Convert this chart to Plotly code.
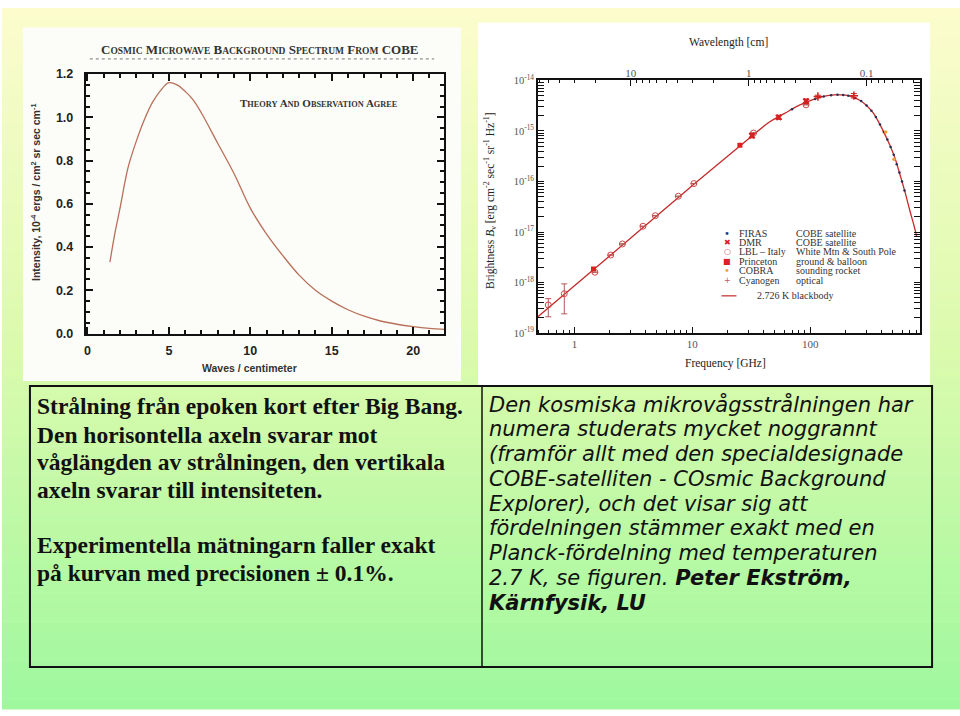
import plotly.graph_objects as go

W, H = 960, 716
def X(p): return p / W
def Y(p): return 1 - p / H

# ---------------- data: left chart (COBE spectrum, wavenumber) ----------------
wavenumber = [1.38, 1.7, 2.0, 2.3, 2.5, 3.0, 3.5, 4.0, 4.5, 5.0, 5.5, 6.0, 6.5, 7.0, 8.0, 9.0,
              10, 11, 12, 13, 14, 15, 16, 17, 18, 19, 20, 21, 22]
intensity = [0.33, 0.47, 0.58, 0.70, 0.77, 0.89, 0.99, 1.07, 1.125, 1.16, 1.15, 1.12, 1.08, 1.02,
             0.88, 0.74, 0.58, 0.46, 0.36, 0.27, 0.20, 0.15, 0.11, 0.08, 0.058, 0.043, 0.032, 0.024, 0.019]
left_xticks = [0, 5, 10, 15, 20]
left_yticks = [0.0, 0.2, 0.4, 0.6, 0.8, 1.0, 1.2]

# ---------------- data: right chart (brightness vs frequency) ----------------
nu_bb = [0.49, 1.0, 2.0, 5.0, 10, 20, 30, 45, 60, 80, 100, 120, 140, 160, 180, 200, 230, 260,
         300, 340, 380, 420, 470, 520, 580, 640, 700, 760, 800]
B_bb = [2.1e-19, 8.6e-19, 3.4e-18, 2.1e-17, 8.3e-17, 3.2e-16, 7.0e-16, 1.5e-15, 2.2e-15, 3.2e-15,
        4.0e-15, 4.6e-15, 5.0e-15, 5.2e-15, 5.2e-15, 5.1e-15, 4.7e-15, 4.1e-15, 3.2e-15, 2.3e-15,
        1.5e-15, 9.5e-16, 5.4e-16, 3.0e-16, 1.3e-16, 5.8e-17, 2.6e-17, 1.3e-17, 8.0e-18]

firas_nu = [70, 90, 110, 130, 150, 170, 190, 210, 240, 270, 300, 330, 360, 390, 420, 450, 480,
            510, 540, 570, 600, 630]
firas_B = [2.7e-15, 3.6e-15, 4.3e-15, 4.8e-15, 5.1e-15, 5.2e-15, 5.15e-15, 5.0e-15, 4.5e-15,
           3.9e-15, 3.2e-15, 2.5e-15, 1.9e-15, 1.35e-15, 9.5e-16, 6.8e-16, 4.8e-16, 3.4e-16,
           2.2e-16, 1.5e-16, 1.0e-16, 6.6e-17]

dmr_nu = [32, 54, 92]
dmr_B = [8.1e-16, 1.86e-15, 3.9e-15]
dmr_hi = [9.0e-16, 2.05e-15, 4.3e-15]
dmr_lo = [7.3e-16, 1.7e-15, 3.5e-15]

lbl_nu = [0.60, 0.82, 1.49, 2.03, 2.55, 3.81, 4.85, 7.6, 10.3, 33, 92]
lbl_B = [3.6e-19, 6.0e-19, 1.6e-18, 3.5e-18, 5.8e-18, 1.3e-17, 2.1e-17, 5.1e-17, 9.1e-17, 9.1e-16, 3.3e-15]
lbl_hi = [4.8e-19, 9.4e-19, 1.6e-18, 3.5e-18, 5.8e-18, 1.3e-17, 2.1e-17, 5.1e-17, 9.1e-17, 9.1e-16, 3.3e-15]
lbl_lo = [2.1e-19, 2.4e-19, 1.6e-18, 3.5e-18, 5.8e-18, 1.3e-17, 2.1e-17, 5.1e-17, 9.1e-17, 9.1e-16, 3.3e-15]

princeton_nu = [1.45, 25.3]
princeton_B = [1.85e-18, 5.2e-16]

cobra_nu = [436, 512]
cobra_B = [9.5e-16, 2.75e-16]

cyan_nu = [116, 234]
cyan_B = [4.8e-15, 5.0e-15]
cyan_hi = [5.1e-15, 5.5e-15]
cyan_lo = [4.5e-15, 4.5e-15]

right_yticks = [1e-19, 1e-18, 1e-17, 1e-16, 1e-15, 1e-14]
right_ytext = ["10<sup>-19</sup>", "10<sup>-18</sup>", "10<sup>-17</sup>", "10<sup>-16</sup>",
               "10<sup>-15</sup>", "10<sup>-14</sup>"]
right_xticks = [1, 10, 100]
right_xtext = ["1", "10", "100"]
wl_ticks = [10, 1, 0.1]
wl_text = ["10", "1", "0.1"]

legend_rows = [
    ("•", "#1f3f9a", "FIRAS", "COBE satellite"),
    ("✖", "#d42020", "DMR", "COBE satellite"),
    ("○", "#d04848", "LBL – Italy", "White Mtn & South Pole"),
    ("■", "#e02020", "Princeton", "ground & balloon"),
    ("•", "#f0a040", "COBRA", "sounding rocket"),
    ("+", "#c05a5a", "Cyanogen", "optical"),
]

left_text = ["Strålning från epoken kort efter Big Bang.",
             "Den horisontella axeln svarar mot",
             "våglängden av strålningen, den vertikala",
             "axeln svarar till intensiteten.",
             "",
             "Experimentella mätningarn faller exakt",
             "på kurvan med precisionen ± 0.1%."]
right_text = ["Den kosmiska mikrovågsstrålningen har",
              "numera studerats mycket noggrannt",
              "(framför allt med den specialdesignade",
              "COBE-satelliten - COsmic Background",
              "Explorer), och det visar sig att",
              "fördelningen stämmer exakt med en",
              "Planck-fördelning med temperaturen",
              "2.7 K, se figuren. <b>Peter Ekström,</b>",
              "<b>Kärnfysik, LU</b>"]

fig = go.Figure()

# ---------------- left chart traces ----------------
fig.add_trace(go.Scatter(x=wavenumber, y=intensity, mode="lines", xaxis="x3", yaxis="y3",
                         line=dict(color="#b8705a", width=1.3, shape="spline"), showlegend=False))

# ---------------- right chart traces ----------------
red = "#c42a2a"
fig.add_trace(go.Scatter(x=[30 / n for n in nu_bb], y=B_bb, xaxis="x2", yaxis="y", mode="lines",
                         line=dict(color="rgba(0,0,0,0)"), hoverinfo="skip", showlegend=False))
fig.add_trace(go.Scatter(x=nu_bb, y=B_bb, mode="lines", line=dict(color=red, width=1.3, shape="spline"),
                         showlegend=False))
fig.add_trace(go.Scatter(x=firas_nu, y=firas_B, mode="markers",
                         marker=dict(color="#22305a", size=2.5), showlegend=False))
fig.add_trace(go.Scatter(x=lbl_nu, y=lbl_B, mode="markers",
                         error_y=dict(type="data", symmetric=False,
                                      array=[h - v for h, v in zip(lbl_hi, lbl_B)],
                                      arrayminus=[v - l for v, l in zip(lbl_B, lbl_lo)],
                                      color="#b45858", thickness=1, width=3),
                         marker=dict(symbol="circle-open", color="#d04848", size=6, line=dict(width=1)),
                         showlegend=False))
fig.add_trace(go.Scatter(x=dmr_nu, y=dmr_B, mode="markers",
                         error_y=dict(type="data", symmetric=False,
                                      array=[h - v for h, v in zip(dmr_hi, dmr_B)],
                                      arrayminus=[v - l for v, l in zip(dmr_B, dmr_lo)],
                                      color="#d42020", thickness=1, width=3),
                         marker=dict(symbol="x", color="#d42020", size=6), showlegend=False))
fig.add_trace(go.Scatter(x=princeton_nu, y=princeton_B, mode="markers",
                         marker=dict(symbol="square", color="#e02020", size=5), showlegend=False))
fig.add_trace(go.Scatter(x=cobra_nu, y=cobra_B, mode="markers",
                         marker=dict(color="#f0a040", size=3.5), showlegend=False))
fig.add_trace(go.Scatter(x=cyan_nu, y=cyan_B, mode="markers",
                         error_y=dict(type="data", symmetric=False,
                                      array=[h - v for h, v in zip(cyan_hi, cyan_B)],
                                      arrayminus=[v - l for v, l in zip(cyan_B, cyan_lo)],
                                      color="#d42020", thickness=1, width=3),
                         marker=dict(symbol="cross-thin", color="#d42020", size=6, line=dict(width=1.5, color="#d42020")),
                         showlegend=False))

# ---------------- shapes ----------------
shapes = []
top_c = (252, 252, 205)
mid_c = (218, 250, 172)
bot_c = (158, 248, 158)
N = 72
for i in range(N):
    t = (i + 0.5) / N
    if t < 0.5:
        u = t / 0.5
        c = [round(top_c[k] + (mid_c[k] - top_c[k]) * u) for k in range(3)]
    else:
        u = (t - 0.5) / 0.5
        c = [round(mid_c[k] + (bot_c[k] - mid_c[k]) * u) for k in range(3)]
    shapes.append(dict(type="rect", xref="paper", yref="paper", x0=0, x1=1,
                       y0=Y((i + 1) * H / N + 0.5), y1=Y(i * H / N), fillcolor="rgb(%d,%d,%d)" % tuple(c),
                       line=dict(width=0), layer="below"))
# panels
shapes.append(dict(type="rect", xref="paper", yref="paper", x0=X(21), x1=X(460), y0=Y(381), y1=Y(20),
                   fillcolor="#fcfdf8", line=dict(width=0), layer="below"))
shapes.append(dict(type="rect", xref="paper", yref="paper", x0=X(477), x1=X(930), y0=Y(385), y1=Y(15),
                   fillcolor="#ffffff", line=dict(width=0), layer="below"))
# text box
shapes.append(dict(type="rect", xref="paper", yref="paper", x0=X(28), x1=X(932), y0=Y(673), y1=Y(386),
                   line=dict(color="#111", width=2), fillcolor="rgba(0,0,0,0)"))
shapes.append(dict(type="line", xref="paper", yref="paper", x0=X(481), x1=X(481), y0=Y(673), y1=Y(386),
                   line=dict(color="#111", width=1.5)))
# dotted rule under left title
shapes.append(dict(type="line", xref="paper", yref="paper", x0=X(88), x1=X(433), y0=Y(52), y1=Y(52),
                   line=dict(color="#777", width=1, dash="dot")))
# legend line
shapes.append(dict(type="line", xref="paper", yref="paper", x0=X(721), x1=X(736), y0=Y(294), y1=Y(294),
                   line=dict(color=red, width=1.2)))

# ---------------- annotations ----------------
ann = []
def A(x, y, text, size, color="#222", family="Liberation Serif", xa="left", ya="middle", angle=0):
    ann.append(dict(x=X(x), y=Y(y), xref="paper", yref="paper", text=text, showarrow=False,
                    xanchor=xa, yanchor=ya, textangle=angle,
                    font=dict(size=size, color=color, family=family)))

def smallcaps(words, small):
    out = []
    for w in words.split(" "):
        if w == "COBE":
            out.append(w)
        else:
            out.append(w[0] + "<span style='font-size:%.1fpx'>%s</span>" % (small, w[1:]))
    return " ".join(out)

A(259, 42, "<b>" + smallcaps("COSMIC MICROWAVE BACKGROUND SPECTRUM FROM COBE", 9.5) + "</b>", 13,
  color="#333", xa="center")
A(318, 97, "<b>" + smallcaps("THEORY AND OBSERVATION AGREE", 8.3) + "</b>", 11, color="#333", xa="center")
A(248, 368, "<b>Waves / centimeter</b>", 10.5, color="#333", family="Liberation Sans", xa="center")
A(33, 188, "<b>Intensity, 10<sup>-4</sup> ergs / cm<sup>2</sup> sr sec cm<sup>-1</sup></b>", 10.5,
  color="#333", family="Liberation Sans", xa="center", angle=-90)

A(728, 35, "Wavelength [cm]", 11.5, color="#222", xa="center")
A(725, 363, "Frequency [GHz]", 11.5, color="#222", xa="center")
A(489, 196, "Brightness <i>B</i><sub>ν</sub> [erg cm<sup>-2</sup> sec<sup>-1</sup> sr<sup>-1</sup> Hz<sup>-1</sup>]",
  11.5, color="#222", xa="center", angle=-90)

leg_y = [230, 239.6, 249.2, 258.8, 268.4, 278]
for (sym, col, name, desc), yy in zip(legend_rows, leg_y):
    A(727, yy, sym, 8 if sym != "•" else 10, color=col, family="DejaVu Sans", xa="center")
    A(737, yy, name, 10, color="#333")
    A(794, yy, desc, 10, color="#333")
A(755, 294, "2.726 K blackbody", 10, color="#333")

left_y = [407, 436, 464, 492, 520, 549, 577]
for t, yy in zip(left_text, left_y):
    if t:
        A(33, yy, "<b>" + t + "</b>", 23.5, color="#111", family="Liberation Serif")
right_y = [405, 430.3, 455.6, 480.9, 506.2, 531.5, 556.8, 582.1, 607.4]
for t, yy in zip(right_text, right_y):
    A(486, yy, "<i>" + t + "</i>", 21, color="#111", family="DejaVu Sans")

fig.update_layout(
    width=W, height=H, margin=dict(l=0, r=0, t=0, b=0),
    paper_bgcolor="#ffffff", plot_bgcolor="rgba(0,0,0,0)",
    shapes=shapes, annotations=ann, showlegend=False,
    # right chart
    xaxis=dict(type="log", domain=[X(537), X(920)], range=[-0.31, 2.931], anchor="y",
               tickvals=right_xticks, ticktext=right_xtext, ticks="inside", ticklen=6, tickwidth=1,
               tickcolor="#111", showline=True, linecolor="#111", linewidth=1.5, mirror=True,
               showgrid=False, zeroline=False, tickfont=dict(family="Liberation Serif", size=11, color="#555"),
               minor=dict(ticks="inside", ticklen=3, dtick="D1", tickcolor="#111", showgrid=False)),
    xaxis2=dict(type="log", overlaying="x", side="top", anchor="y",
                range=[1.7878, -1.4538], tickvals=wl_ticks, ticktext=wl_text, ticks="inside",
                ticklen=6, tickcolor="#111", showgrid=False, zeroline=False, showline=False,
                tickfont=dict(family="Liberation Serif", size=11, color="#555"),
                minor=dict(ticks="inside", ticklen=3, dtick="D1", tickcolor="#111", showgrid=False)),
    yaxis=dict(type="log", domain=[Y(332), Y(74)], range=[-19, -14], anchor="x",
               tickvals=right_yticks, ticktext=right_ytext, ticks="inside", ticklen=6, tickcolor="#111",
               showline=True, linecolor="#111", linewidth=1.5, mirror="allticks", showgrid=False,
               zeroline=False, tickfont=dict(family="Liberation Serif", size=10.5, color="#555"),
               minor=dict(ticks="inside", ticklen=3, dtick="D1", tickcolor="#111", showgrid=False)),
    # left chart
    xaxis3=dict(domain=[X(84), X(443)], range=[-0.1, 21.9], anchor="y3", tickvals=left_xticks,
                ticktext=["<b>%d</b>" % v for v in left_xticks],
                ticks="inside", ticklen=7, tickwidth=1.5, tickcolor="#111", showline=True,
                linecolor="#111", linewidth=2, mirror="allticks", showgrid=False, zeroline=False,
                tickfont=dict(family="Liberation Sans", size=12.5, color="#222"),
                ticklabelstandoff=4,
                minor=dict(ticks="inside", ticklen=4, dtick=1, tickcolor="#111", showgrid=False)),
    yaxis3=dict(domain=[Y(332.5), Y(67.5)], range=[0, 1.2], anchor="x3", tickvals=left_yticks,
                ticktext=["<b>%.1f</b>" % v for v in left_yticks],
                ticks="inside", ticklen=7, tickwidth=1.5, tickcolor="#111", showline=True,
                linecolor="#111", linewidth=2, mirror="allticks", showgrid=False, zeroline=False,
                tickfont=dict(family="Liberation Sans", size=12.5, color="#222"),
                ticklabelstandoff=8,
                minor=dict(ticks="inside", ticklen=4, dtick=0.05, tickcolor="#111", showgrid=False)),
)

fig.write_html("out.html", config={"displayModeBar": False},
               post_script="document.body.style.margin='0';document.body.style.overflow='hidden';")
